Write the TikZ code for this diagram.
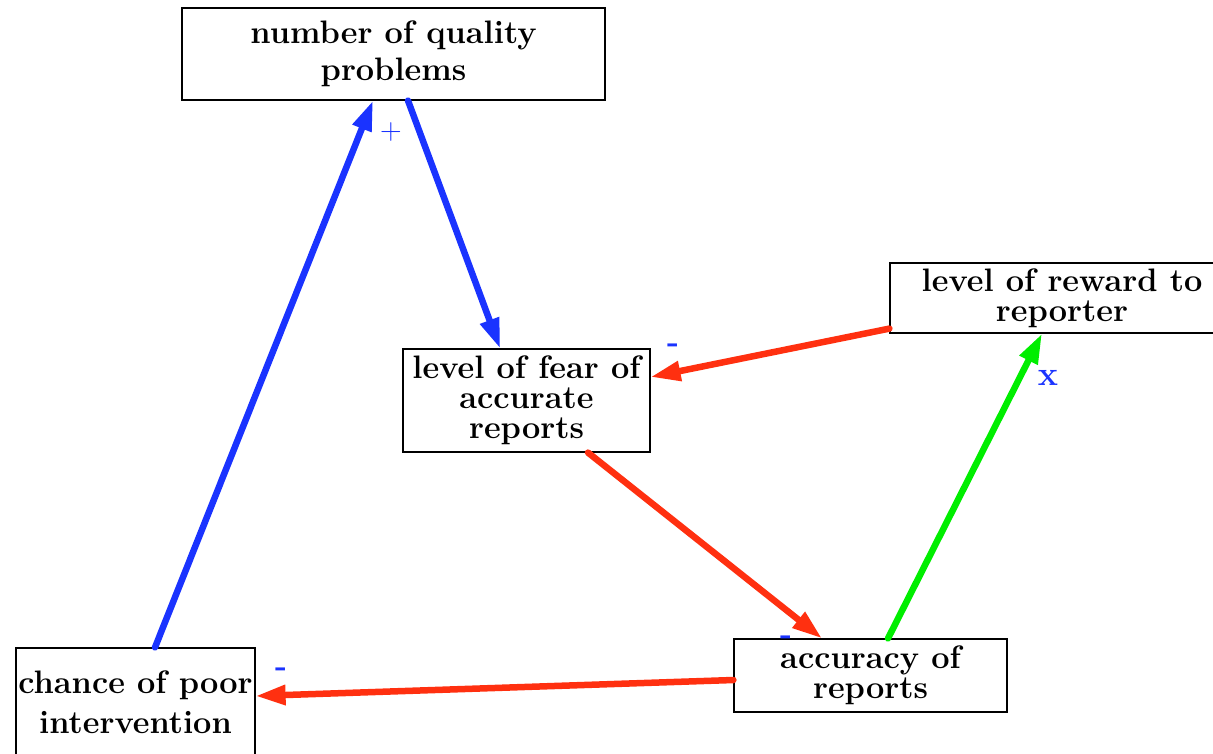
\documentclass[tikz,border=0pt]{standalone}
\usepackage{fontspec}
\usetikzlibrary{arrows.meta,calc}
\definecolor{linkblue}{RGB}{26,51,255}
\definecolor{linkred}{RGB}{255,48,16}
\definecolor{linkgreen}{RGB}{0,238,0}
% one centred line that does not widen its box
\newcommand\tline[1]{\makebox[0pt]{#1}}
\begin{document}
\begin{tikzpicture}[x=1pt,y=-1pt,
  box/.style={draw=black, line width=1.2pt, rectangle, inner sep=0pt, align=center},
  boxtext/.style={font=\bfseries\fontsize{32.5}{#1}\selectfont},
  link/.style={line width=6.5pt, line cap=round, -{Triangle[length=30pt,width=19pt]}},
  sign/.style={text=linkblue, inner sep=0pt, font=\bfseries\fontsize{32}{32}\selectfont}]
\useasboundingbox (0,0) rectangle (1213,753);

% variables
\node[box, boxtext=37, minimum width=423pt, minimum height=92pt] (Q) at (393.5,54)
  {\tline{number of quality}\\\tline{problems}};
\node[box, boxtext=30, minimum width=247pt, minimum height=103pt] (F) at (526.5,400.5)
  {\tline{level of fear of}\\\tline{accurate}\\\tline{reports}};
\node[box, boxtext=30, minimum width=344pt, minimum height=70pt] (R) at (1062,298)
  {\tline{level of reward to}\\\tline{reporter}};
\node[box, boxtext=40, minimum width=239pt, minimum height=108pt] (C) at (135.5,702)
  {\tline{chance of poor}\\\tline{intervention}};
\node[box, boxtext=30, minimum width=273pt, minimum height=73pt] (A) at (870.5,675.5)
  {\tline{accuracy of}\\\tline{reports}};

% causal links
\draw[link, linkblue] ([xshift=14.5pt]Q.south) -- ([xshift=-26.5pt]F.north);
\draw[link, linkblue] ([xshift=19.5pt]C.north) -- ([xshift=-20.5pt]Q.south);
\draw[link, linkred] ([yshift=5pt]R.south west) -- ([yshift=23.5pt]F.east);
\draw[link, linkred] ([xshift=61.5pt]F.south) -- ([xshift=-48.5pt]A.north);
\draw[link, linkgreen] ([xshift=17.5pt]A.north) -- ([xshift=-20pt]R.south);
\draw[link, linkred] ([yshift=-4.5pt]A.west) -- ([yshift=6pt]C.east);

% polarity marks
\node[sign, font=\fontsize{30}{30}\selectfont] (s1) at (391,132) {+};
\node[sign] (s2) at (673,348) {-};
\node[sign] (s3) at (786,640.5) {-};
\node[sign] (s4) at (281,672) {-};
\node[sign, font=\bfseries\fontsize{34}{34}\selectfont] (s5) at (1048,378) {x};
\end{tikzpicture}
\end{document}
